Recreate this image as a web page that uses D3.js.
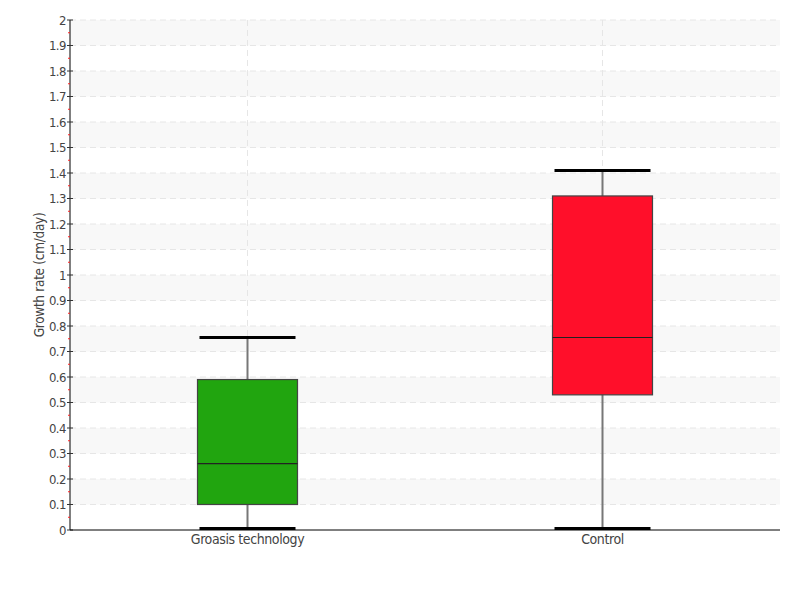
<!DOCTYPE html>
<html><head><meta charset="utf-8">
<script src="https://cdn.jsdelivr.net/npm/d3@7"></script>
<style>body{margin:0;background:#fff}svg{display:block}text{font-family:"DejaVu Sans Condensed","Liberation Sans Narrow",sans-serif}</style>
</head><body><svg id="c" width="800" height="600"></svg>
<script>
const categories = ["Groasis technology", "Control"];
const mins = [0, 0];
const q1s = [0.1, 0.53];
const medians = [0.26, 0.755];
const q3s = [0.59, 1.31];
const maxs = [0.755, 1.41];
const colors = ["#21a50f", "#ff0f2a"];
const yTicks = d3.range(0, 21).map(i => +(i / 10).toFixed(1));
const yTickLabels = yTicks.map(v => String(v));

const svg = d3.select("#c");
const m = {l: 70, r: 20, t: 20, b: 70};
const W = 800, H = 600;
const x = d3.scaleBand().domain(categories).range([m.l, W - m.r]);
const y = d3.scaleLinear().domain([0, 2]).range([H - m.b, m.t]);

const bands = d3.range(1, 20, 2).map(i => i / 10);
svg.append("g").selectAll("rect").data(bands).join("rect")
  .attr("x", m.l).attr("width", W - m.r - m.l)
  .attr("y", d => y(d + 0.1)).attr("height", d => y(d) - y(d + 0.1))
  .attr("fill", "#f8f8f8");
svg.append("g").selectAll("line").data(yTicks.slice(1)).join("line")
  .attr("x1", m.l).attr("x2", W - m.r)
  .attr("y1", d => y(d)).attr("y2", d => y(d))
  .attr("stroke", "#e6e6e6").attr("stroke-dasharray", "6,4");
svg.append("g").selectAll("line").data(categories).join("line")
  .attr("x1", d => x(d) + x.bandwidth() / 2).attr("x2", d => x(d) + x.bandwidth() / 2)
  .attr("y1", m.t).attr("y2", H - m.b)
  .attr("stroke", "#e6e6e6").attr("stroke-dasharray", "6,4");

const data = categories.map((c, i) => ({c, min: mins[i], q1: q1s[i], med: medians[i], q3: q3s[i], max: maxs[i], col: colors[i]}));
const bw = 100;
const g = svg.append("g").selectAll("g").data(data).join("g")
  .attr("transform", d => `translate(${x(d.c) + x.bandwidth() / 2},0)`);
g.append("line").attr("x1", 0).attr("x2", 0).attr("y1", d => y(d.max)).attr("y2", d => y(d.min))
  .attr("stroke", "#777").attr("stroke-width", 2);
g.append("rect").attr("x", -bw / 2).attr("width", bw)
  .attr("y", d => y(d.q3)).attr("height", d => y(d.q1) - y(d.q3))
  .attr("fill", d => d.col).attr("stroke", "#444").attr("stroke-width", 1.2);
g.append("line").attr("x1", -bw / 2).attr("x2", bw / 2).attr("y1", d => y(d.med)).attr("y2", d => y(d.med))
  .attr("stroke", "#222").attr("stroke-width", 1.2);
g.selectAll(".cap").data(d => [d.max, d.min]).join("line")
  .attr("x1", -48).attr("x2", 48).attr("y1", v => y(v) - (v === 0 ? 1.5 : 0)).attr("y2", v => y(v) - (v === 0 ? 1.5 : 0))
  .attr("stroke", "#000").attr("stroke-width", 3);

const ya = svg.append("g").attr("transform", `translate(${m.l},0)`);
ya.append("line").attr("y1", m.t).attr("y2", H - m.b).attr("stroke", "#000");
ya.selectAll(".minor").data(d3.range(0, 20).map(i => (i + 0.5) / 10)).join("line")
  .attr("x1", -2).attr("x2", 0).attr("y1", d => y(d)).attr("y2", d => y(d)).attr("stroke", "#ff2020");
ya.selectAll(".major").data(yTicks).join("line")
  .attr("x1", -3).attr("x2", 3).attr("y1", d => y(d)).attr("y2", d => y(d)).attr("stroke", "#333");
ya.selectAll("text").data(yTicks).join("text")
  .attr("x", -4).attr("y", d => y(d)).attr("dy", "0.35em").attr("text-anchor", "end")
  .attr("fill", "#444").attr("font-size", 13).attr("letter-spacing", "-0.5")
  .text((d, i) => yTickLabels[i]);
const xa = svg.append("g").attr("transform", `translate(0,${H - m.b})`);
xa.append("line").attr("x1", m.l).attr("x2", W - m.r).attr("stroke", "#000");
xa.selectAll("text").data(categories).join("text")
  .attr("x", d => x(d) + x.bandwidth() / 2).attr("y", 14).attr("text-anchor", "middle")
  .attr("fill", "#444").attr("font-size", 14).attr("letter-spacing", "-0.4").text(d => d);
svg.append("text").attr("transform", `translate(44,${(m.t + H - m.b) / 2}) rotate(-90)`)
  .attr("text-anchor", "middle").attr("fill", "#444").attr("font-size", 13.5).attr("letter-spacing", "-0.3")
  .text("Growth rate (cm/day)");
</script></body></html>
